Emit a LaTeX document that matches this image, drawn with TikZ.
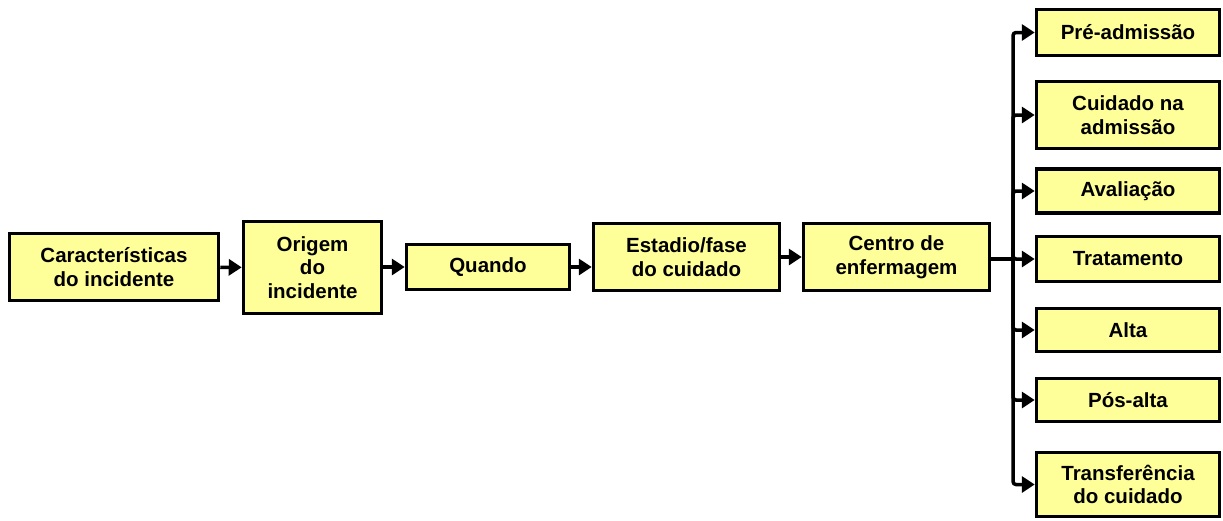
\documentclass[tikz,border=0pt]{standalone}
\usepackage{fontspec}
\setmainfont{Liberation Sans}
\usetikzlibrary{arrows.meta}
\definecolor{boxfill}{HTML}{FFFF99}
\tikzset{
  box/.style={draw=black, fill=boxfill, line width=3.5pt, inner sep=0pt, align=center,
    font=\fontsize{20.5}{23.5}\selectfont\bfseries},
  conn/.style={line width=3.5pt, -{Triangle[length=13pt,width=16pt]}},
}
\begin{document}
\begin{tikzpicture}[x=1pt,y=-1pt]
\useasboundingbox (0,0) rectangle (1223,520);
% main chain
\node[box, minimum width=209pt, minimum height=67pt] (b1) at (114,267) {Características\\do incidente};
\node[box, minimum width=138pt, minimum height=92pt] (b2) at (312.5,267.5) {Origem\\do\\incidente};
\node[box, minimum width=163pt, minimum height=45pt] (b3) at (488,267) {Quando};
\node[box, minimum width=186pt, minimum height=67pt] (b4) at (686.5,257) {Estadio/fase\\do cuidado};
\node[box, minimum width=186pt, minimum height=67pt] (b5) at (896.5,257) {Centro de\\enfermagem};
% right column
\node[box, minimum width=183pt, minimum height=46pt] (t1) at (1128,32.5) {Pré-admissão};
\node[box, minimum width=183pt, minimum height=67pt] (t2) at (1128,115) {Cuidado na\\admissão};
\node[box, minimum width=183pt, minimum height=44pt] (t3) at (1128,191) {Avaliação};
\node[box, minimum width=183pt, minimum height=45pt] (t4) at (1128,259) {Tratamento};
\node[box, minimum width=183pt, minimum height=43pt] (t5) at (1128,330) {Alta};
\node[box, minimum width=183pt, minimum height=43pt] (t6) at (1128,400) {Pós-alta};
\node[box, minimum width=183pt, minimum height=64pt] (t7) at (1128,484.5) {Transferência\\do cuidado};
% connectors
\draw[conn] (b1) -- (b2);
\draw[conn] (b2.east |- b3.east) -- (b3.west);
\draw[conn] (b3.east) -- (b3.east -| b4.west);
\draw[conn] (b4) -- (b5);
\coordinate (tr) at (1013,259);
\draw[line width=3.5pt] (b5.east |- tr) -- (tr);
\foreach \t in {t1,t2,t3,t4,t5,t6,t7}{
  \draw[conn, rounded corners=3pt] (tr) |- (\t.west);
}
\end{tikzpicture}
\end{document}
